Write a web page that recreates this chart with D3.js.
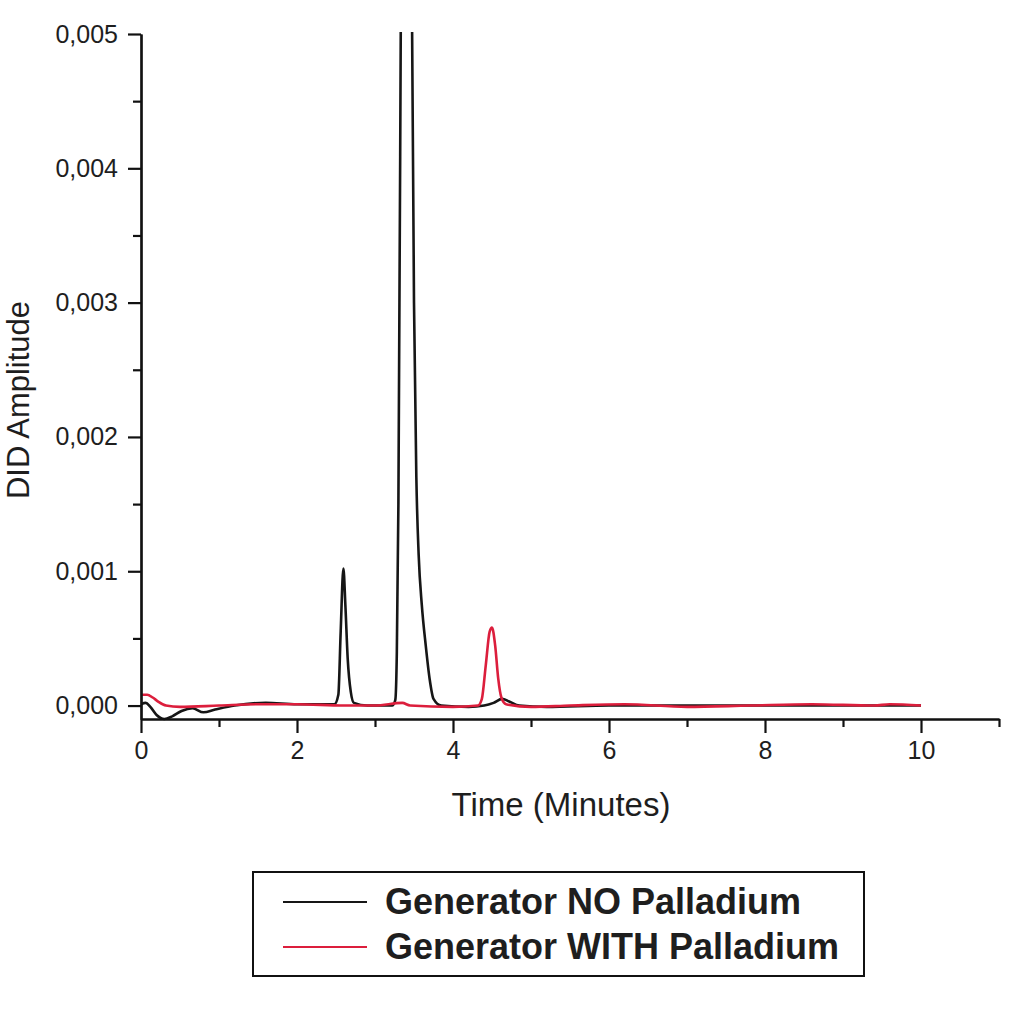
<!DOCTYPE html>
<html>
<head>
<meta charset="utf-8">
<script src="https://cdn.jsdelivr.net/npm/d3@7"></script>
<style>
    body { margin: 0; background: #fff; }
    svg text { font-family: "Liberation Sans", Arial, sans-serif; fill: #1e1e1e; }
</style>
</head>
<body>
<div id="plot"></div>
<script>
// [time (min), amplitude]
const noPalladium = [
    [0.00, 0.00001], [0.06, 0.00002], [0.12, -0.00001], [0.20, -0.00007], [0.30, -0.00010],
    [0.40, -0.00008], [0.52, -0.00004], [0.66, -0.00002], [0.80, -0.00005], [0.95, -0.00003],
    [1.20, 0.00000], [1.60, 0.00002], [2.00, 0.00001], [2.48, 0.00001], [2.53, 0.00008],
    [2.56, 0.00055], [2.595, 0.00102], [2.62, 0.00075], [2.65, 0.00035], [2.69, 0.00010],
    [2.73, 0.00002], [2.90, 0.00000], [3.22, 0.00000], [3.26, 0.00004], [3.28, 0.00040],
    [3.30, 0.00150], [3.33, 0.00500], [3.36, 0.00900], [3.40, 0.01100], [3.44, 0.00900],
    [3.47, 0.00550], [3.50, 0.00300], [3.53, 0.00170], [3.56, 0.00112], [3.60, 0.00075],
    [3.65, 0.00045], [3.70, 0.00020], [3.75, 0.00005], [3.85, 0.00000], [4.20, -0.00001],
    [4.40, 0.00000], [4.52, 0.00002], [4.63, 0.00005], [4.72, 0.00003], [4.85, 0.00000],
    [5.20, -0.00001], [6.00, 0.00000], [7.00, 0.00000], [8.00, 0.00000], [9.00, 0.00000],
    [10.00, 0.00000]
];

const withPalladium = [
    [0.00, 0.00008], [0.08, 0.00008], [0.15, 0.00006], [0.22, 0.00003], [0.32, 0.00000],
    [0.50, -0.00001], [1.00, 0.00000], [1.50, 0.00001], [2.00, 0.00001], [2.60, 0.00000],
    [3.00, 0.00000], [3.35, 0.00002], [3.45, 0.00000], [4.00, -0.00001], [4.32, 0.00000],
    [4.37, 0.00005], [4.42, 0.00030], [4.47, 0.00055], [4.50, 0.00058], [4.54, 0.00045],
    [4.58, 0.00020], [4.62, 0.00006], [4.68, 0.00001], [5.00, -0.00001], [5.50, 0.00000],
    [6.20, 0.00001], [7.00, -0.00001], [7.80, 0.00000], [8.60, 0.00001], [9.40, 0.00000],
    [9.60, 0.00001], [10.00, 0.00000]
];

const seriesNames = ["Generator NO Palladium", "Generator WITH Palladium"];
const seriesColors = ["#161616", "#dc1e3c"];

const xTicks = [0, 2, 4, 6, 8, 10];
const xMinorTicks = [1, 3, 5, 7, 9, 11];
const yTicks = [0, 0.001, 0.002, 0.003, 0.004, 0.005];
const yMinorTicks = [0.0005, 0.0015, 0.0025, 0.0035, 0.0045];

const width = 1024, height = 1015;
const margin = { top: 34, right: 25, bottom: 296, left: 141 };
const innerW = width - margin.left - margin.right;
const innerH = height - margin.top - margin.bottom;

const svg = d3.select("#plot").append("svg")
    .attr("width", width)
    .attr("height", height);

const content = svg.append("g")
    .attr("transform", "translate(" + margin.left + "," + margin.top + ")");

const xScale = d3.scaleLinear().domain([0, 11]).range([0, innerW]);
const yScale = d3.scaleLinear().domain([-0.0001, 0.005]).range([innerH, 0]);

// clip the off-scale main peak at the top of the frame
svg.append("defs").append("clipPath").attr("id", "clip")
    .append("rect")
    .attr("y", -2)
    .attr("width", innerW)
    .attr("height", innerH + 6);

const line = d3.line()
    .x(d => xScale(d[0]))
    .y(d => yScale(d[1]))
    .curve(d3.curveMonotoneX);

const lines = content.append("g").attr("clip-path", "url(#clip)");
[noPalladium, withPalladium].forEach((data, i) => {
    lines.append("path")
        .datum(data)
        .attr("fill", "none")
        .attr("stroke", seriesColors[i])
        .attr("stroke-width", 2.6)
        .attr("stroke-linejoin", "round")
        .attr("d", line);
});

const styleAxis = g => {
    g.selectAll(".domain, line").attr("stroke", "#111").attr("stroke-width", 2.2);
    g.selectAll("text").attr("font-size", 25).attr("fill", "#222");
};

// x axis
content.append("g")
    .attr("transform", "translate(0," + innerH + ")")
    .call(d3.axisBottom(xScale).tickValues(xMinorTicks).tickSize(8).tickSizeOuter(0).tickFormat(""))
    .call(styleAxis);
content.append("g")
    .attr("transform", "translate(0," + innerH + ")")
    .call(d3.axisBottom(xScale).tickValues(xTicks).tickSize(14).tickSizeOuter(0).tickPadding(8))
    .call(styleAxis);

// y axis
const fmt = d3.format(".3f");
content.append("g")
    .call(d3.axisLeft(yScale).tickValues(yMinorTicks).tickSize(8).tickSizeOuter(0).tickFormat(""))
    .call(styleAxis);
content.append("g")
    .call(d3.axisLeft(yScale).tickValues(yTicks).tickSize(13).tickSizeOuter(0).tickPadding(10)
        .tickFormat(d => fmt(d).replace(".", ",")))
    .call(styleAxis);

content.append("text")
    .attr("text-anchor", "middle")
    .attr("x", innerW / 2 - 9)
    .attr("y", innerH + 97)
    .attr("font-size", 33)
    .text("Time (Minutes)");

content.append("text")
    .attr("text-anchor", "middle")
    .attr("transform", "rotate(-90)")
    .attr("x", -(400 - margin.top))
    .attr("y", -margin.left + 29)
    .attr("font-size", 31)
    .text("DID Amplitude");

// legend
const legend = svg.append("g").attr("transform", "translate(253,872)");
legend.append("rect")
    .attr("width", 611)
    .attr("height", 104)
    .attr("fill", "#fff")
    .attr("stroke", "#111")
    .attr("stroke-width", 2);

seriesNames.forEach((name, i) => {
    const row = legend.append("g").attr("transform", "translate(0," + (30 + i * 45) + ")");
    row.append("line")
        .attr("x1", 30).attr("x2", 114)
        .attr("stroke", seriesColors[i])
        .attr("stroke-width", 2.2);
    row.append("text")
        .attr("x", 132)
        .attr("y", 12)
        .attr("font-size", 36)
        .attr("font-weight", "bold")
        .attr("fill", "#1a1a1a")
        .text(name);
});
</script>
</body>
</html>
